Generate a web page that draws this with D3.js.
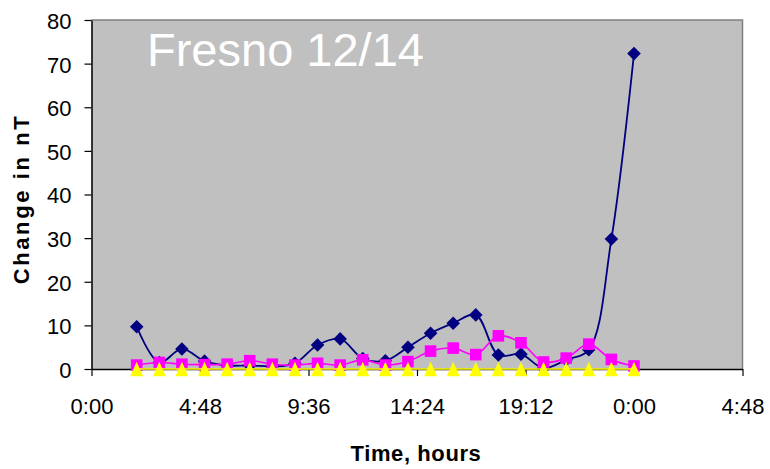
<!DOCTYPE html>
<html>
<head>
<meta charset="utf-8">
<script src="https://cdn.jsdelivr.net/npm/d3@7"></script>
<style>
  html, body { margin: 0; padding: 0; background: #fff; }
  svg { display: block; font-family: "Liberation Sans", Arial, sans-serif; }
</style>
</head>
<body>
<svg id="chart" width="770" height="469"></svg>
<script>
// ---- data ----
const hours = [2,3,4,5,6,7,8,9,10,11,12,13,14,15,16,17,18,19,20,21,22,23,24];
const seriesBlue    = [9.7,1.5,4.6,1.8,0.8,0.8,0.6,1.3,5.5,6.9,2.4,1.9,5.0,8.2,10.5,12.4,3.2,3.4,0.2,2.1,4.4,29.8,72.3];
const seriesMagenta = [0.9,1.5,1.1,1.0,1.1,1.9,1.1,0.9,1.3,0.9,2.1,0.9,1.7,4.1,4.8,3.3,7.6,6.0,1.6,2.5,5.7,2.2,0.7];
const seriesYellow  = [0,0,0,0,0,0,0,0,0,0,0,0,0,0,0,0,0,0,0,0,0,0,0];
const xTickValues = [0, 0.2, 0.4, 0.6, 0.8, 1.0, 1.2];
const xTickLabels = ["0:00","4:48","9:36","14:24","19:12","0:00","4:48"];
const yTickValues = [0,10,20,30,40,50,60,70,80];
const chartTitle = "Fresno 12/14";
const xTitle = "Time, hours";
const yTitle = "Change in nT";

// ---- layout ----
const svg = d3.select("#chart");
const pLeft = 91.5, pRight = 742.5, pTop = 20, pBottom = 369;

const x = d3.scaleLinear().domain([0, 1.2]).range([pLeft, pRight]);
const y = d3.scaleLinear().domain([0, 80]).range([pBottom, pTop]);

// plot area
svg.append("rect")
  .attr("x", pLeft).attr("y", pTop)
  .attr("width", pRight - pLeft).attr("height", pBottom - pTop)
  .attr("fill", "#c0c0c0");
svg.append("path")
  .attr("d", `M${pLeft},${pTop}H${pRight}V${pBottom}`)
  .attr("fill", "none").attr("stroke", "#808080").attr("stroke-width", 1.5);

// axes
const yAxis = d3.axisLeft(y).tickValues(yTickValues).tickSize(7).tickPadding(13).tickSizeOuter(0);
const gy = svg.append("g").attr("transform", `translate(${pLeft},0)`).call(yAxis);
gy.select(".domain").attr("stroke", "#000").attr("stroke-width", 1.5);
gy.selectAll(".tick line").attr("stroke", "#000").attr("stroke-width", 1.2);
gy.selectAll(".tick text").attr("font-size", 22).attr("fill", "#000")
  .attr("font-family", "'Liberation Sans', Arial, sans-serif").attr("dy", "0.38em");

const xAxis = d3.axisBottom(x).tickValues(xTickValues)
  .tickFormat((d, i) => xTickLabels[i]).tickSize(7).tickPadding(22).tickSizeOuter(0);
const gx = svg.append("g").attr("transform", `translate(0,${pBottom})`).call(xAxis);
gx.select(".domain").attr("stroke", "#000").attr("stroke-width", 1.5);
gx.selectAll(".tick line").attr("stroke", "#000").attr("stroke-width", 1.2);
gx.selectAll(".tick text").attr("font-size", 22).attr("fill", "#000")
  .attr("font-family", "'Liberation Sans', Arial, sans-serif");

// titles
svg.append("text")
  .attr("x", 147).attr("y", 66)
  .attr("fill", "#ffffff").attr("font-size", 47)
  .text(chartTitle);

svg.append("text")
  .attr("x", 416).attr("y", 461)
  .attr("text-anchor", "middle")
  .attr("font-size", 22).attr("font-weight", "bold")
  .attr("letter-spacing", "0.6px")
  .text(xTitle);

svg.append("text")
  .attr("transform", "translate(29,199) rotate(-90)")
  .attr("text-anchor", "middle")
  .attr("font-size", 22).attr("font-weight", "bold")
  .attr("letter-spacing", "2.6px")
  .text(yTitle);

// series
const line = d3.line().curve(d3.curveCatmullRom.alpha(0.5))
  .x(d => x(d[0] / 24)).y(d => y(d[1]));

function series(values, color, width, shape, size) {
  const pts = hours.map((h, i) => [h, values[i]]);
  svg.append("path").datum(pts)
    .attr("d", line).attr("fill", "none")
    .attr("stroke", color).attr("stroke-width", width);
  const g = svg.append("g");
  pts.forEach(p => {
    const cx = x(p[0] / 24), cy = y(p[1]);
    const r = size;
    let d;
    if (shape === "diamond") {
      d = `M${cx},${cy - r}L${cx + r},${cy}L${cx},${cy + r}L${cx - r},${cy}Z`;
    } else if (shape === "square") {
      d = `M${cx - r},${cy - r}H${cx + r}V${cy + r}H${cx - r}Z`;
    } else {
      d = `M${cx},${cy - r}L${cx + r * 0.9},${cy + r}L${cx - r * 0.9},${cy + r}Z`;
    }
    g.append("path").attr("d", d).attr("fill", color);
  });
}

series(seriesBlue, "#000080", 1.8, "diamond", 6.8);
series(seriesMagenta, "#ff00ff", 1.6, "square", 5.8);
series(seriesYellow, "#ffff00", 1.6, "triangle", 7.2);
</script>
</body>
</html>
